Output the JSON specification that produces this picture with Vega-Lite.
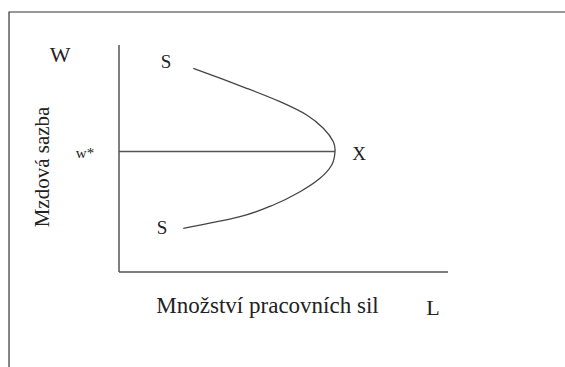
{
  "$schema": "https://vega.github.io/schema/vega-lite/v6.json",
  "width": 565,
  "height": 367,
  "padding": 0,
  "autosize": {"type": "fit", "contains": "padding"},
  "background": "white",
  "config": {"view": {"stroke": null}},
  "encoding": {
    "x": {"type": "quantitative", "scale": {"domain": [-3.617, 13.556], "nice": false, "zero": false}, "axis": null},
    "y": {"type": "quantitative", "scale": {"domain": [-4.185, 11.982], "nice": false, "zero": false}, "axis": null}
  },
  "layer": [
    {
      "data": {"values": [{"L1": -3.343, "L2": 30, "W1": 11.454, "W2": -30}]},
      "mark": {"type": "rect", "filled": false, "stroke": "#333333", "strokeWidth": 1.2, "clip": true},
      "encoding": {"x": {"field": "L1"}, "x2": {"field": "L2"}, "y": {"field": "W1"}, "y2": {"field": "W2"}}
    },
    {
      "data": {"values": [
        {"L1": 0, "L2": 0, "W1": 0, "W2": 10},
        {"L1": 0, "L2": 10, "W1": 0, "W2": 0},
        {"L1": 0, "L2": 6.565, "W1": 5.308, "W2": 5.308}
      ]},
      "mark": {"type": "rule", "stroke": "#555555", "strokeWidth": 1.5},
      "encoding": {"x": {"field": "L1"}, "x2": {"field": "L2"}, "y": {"field": "W1"}, "y2": {"field": "W2"}}
    },
    {
      "data": {"values": [
        {"i": 1, "L": 2.258, "W": 8.974},
        {"i": 2, "L": 3.881, "W": 8.093},
        {"i": 3, "L": 4.894, "W": 7.502},
        {"i": 4, "L": 5.705, "W": 6.916},
        {"i": 5, "L": 6.210, "W": 6.330},
        {"i": 6, "L": 6.514, "W": 5.740},
        {"i": 7, "L": 6.565, "W": 5.300},
        {"i": 8, "L": 6.465, "W": 4.714},
        {"i": 9, "L": 6.109, "W": 4.128},
        {"i": 10, "L": 5.502, "W": 3.537},
        {"i": 11, "L": 4.690, "W": 2.952},
        {"i": 12, "L": 3.678, "W": 2.436},
        {"i": 13, "L": 1.954, "W": 1.925}
      ]},
      "mark": {"type": "line", "stroke": "#444444", "strokeWidth": 1.3, "interpolate": "cardinal"},
      "encoding": {"x": {"field": "L"}, "y": {"field": "W"}, "order": {"field": "i"}}
    },
    {
      "data": {"values": [
        {"t": "W", "L": -1.793, "W": 9.559, "s": 22},
        {"t": "S", "L": 1.429, "W": 9.251, "s": 19},
        {"t": "w*", "L": -1.033, "W": 5.242, "s": 15},
        {"t": "S", "L": 1.307, "W": 1.938, "s": 19},
        {"t": "X", "L": 7.295, "W": 5.198, "s": 19},
        {"t": "Množství pracovních sil", "L": 4.514, "W": -1.498, "s": 23},
        {"t": "L", "L": 9.544, "W": -1.586, "s": 22}
      ]},
      "mark": {"type": "text", "font": "Liberation Serif", "color": "#222222", "align": "center", "baseline": "middle"},
      "encoding": {"x": {"field": "L"}, "y": {"field": "W"}, "text": {"field": "t"}, "size": {"field": "s", "type": "quantitative", "scale": null}}
    },
    {
      "data": {"values": [{"t": "Mzdová sazba", "L": -2.310, "W": 4.626}]},
      "mark": {"type": "text", "font": "Liberation Serif", "fontSize": 21, "angle": 270, "color": "#222222", "align": "center", "baseline": "middle"},
      "encoding": {"x": {"field": "L"}, "y": {"field": "W"}, "text": {"field": "t"}}
    }
  ]
}
